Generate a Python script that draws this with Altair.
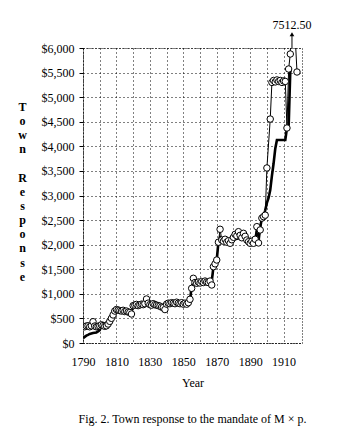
import altair as alt
import pandas as pd

resp_years = [1790, 1791, 1792, 1793, 1794, 1795, 1796, 1797, 1798, 1799,
              1800, 1801, 1802, 1803, 1804, 1805, 1806, 1807, 1808, 1809,
              1810, 1811, 1812, 1813, 1814, 1815, 1816, 1817, 1818, 1819,
              1820, 1821, 1822, 1823, 1824, 1825, 1826, 1827, 1828, 1829,
              1830, 1831, 1832, 1833, 1834, 1835, 1836, 1837, 1838, 1839,
              1840, 1841, 1842, 1843, 1844, 1845, 1846, 1847, 1848, 1849,
              1850, 1851, 1852, 1853, 1854, 1855, 1856, 1857, 1858, 1859,
              1860, 1861, 1862, 1863, 1864, 1865, 1866, 1867, 1868, 1869,
              1870, 1871, 1872, 1873, 1874, 1875, 1876, 1877, 1878, 1879,
              1880, 1881, 1882, 1883, 1884, 1885, 1886, 1887, 1888, 1889,
              1890, 1891, 1892, 1893, 1894, 1895, 1896, 1897, 1898, 1899,
              1900, 1902, 1903, 1904, 1905, 1906, 1907, 1908, 1909, 1910,
              1911, 1912, 1913, 1914, 1915, 1918]
resp_values = [340, 330, 345, 350, 330, 350, 433, 345, 330, 340,
               350, 370, 355, 340, 350, 386, 440, 502, 570, 650,
               680, 670, 660, 650, 665, 640, 650, 630, 620, 590,
               760, 770, 785, 760, 775, 790, 780, 800, 895, 810,
               780, 770, 800, 780, 770, 760, 750, 730, 720, 680,
               790, 810, 800, 820, 810, 800, 830, 810, 800, 820,
               790, 810, 790, 820, 889, 1112, 1316, 1230, 1215, 1240,
               1220, 1250, 1230, 1260, 1240, 1230, 1260, 1180, 1552, 1610,
               1688, 2050, 2313, 2095, 2070, 2110, 2050, 2080, 2028, 2100,
               2150, 2210, 2180, 2264, 2190, 2140, 2231, 2170, 2095, 2060,
               2028, 2070, 2028, 2110, 2366, 2035, 2300, 2540, 2570, 2600,
               3560, 4555, 5300, 5340, 5310, 5350, 5320, 5340, 5300, 5330,
               5320, 4373, 5573, 5878, 7512.5, 5512]

mand_years = [1790, 1791, 1792, 1793, 1794, 1795, 1796, 1797, 1798, 1799,
              1800, 1801, 1802, 1803, 1804, 1805, 1806, 1807, 1808, 1809,
              1810, 1811, 1812, 1813, 1814, 1815, 1816, 1817, 1818, 1819,
              1820, 1821, 1822, 1823, 1824, 1825, 1826, 1827, 1828, 1829,
              1830, 1831, 1832, 1833, 1834, 1835, 1836, 1837, 1838, 1839,
              1840, 1841, 1842, 1843, 1844, 1845, 1846, 1847, 1848, 1849,
              1850, 1851, 1852, 1853, 1854, 1855, 1856, 1857, 1858, 1859,
              1860, 1861, 1862, 1863, 1864, 1865, 1866, 1867, 1868, 1869,
              1870, 1871, 1872, 1873, 1874, 1875, 1876, 1877, 1878, 1879,
              1880, 1881, 1882, 1883, 1884, 1885, 1886, 1887, 1888, 1889,
              1890, 1891, 1892, 1893, 1894, 1895, 1896, 1897, 1898, 1899,
              1900, 1901, 1902, 1903, 1904, 1905, 1906, 1907, 1908, 1909,
              1910, 1911, 1912, 1913, 1914, 1915]
mand_values = [100, 125, 150, 165, 185, 195, 205, 210, 215, 235,
               260, 350, 350, 345, 350, 380, 440, 500, 570, 640,
               665, 665, 660, 655, 655, 650, 645, 640, 635, 630,
               760, 765, 770, 770, 775, 780, 785, 790, 800, 800,
               790, 785, 790, 780, 775, 770, 765, 760, 755, 750,
               790, 800, 805, 810, 810, 815, 815, 810, 810, 815,
               810, 810, 815, 820, 860, 1150, 1220, 1225, 1225, 1230,
               1235, 1240, 1240, 1245, 1245, 1250, 1250, 1255, 1540, 1600,
               1690, 2050, 2150, 2100, 2090, 2090, 2085, 2080, 2085, 2090,
               2100, 2110, 2120, 2130, 2120, 2110, 2100, 2100, 2090, 2080,
               2080, 2080, 2080, 2080, 2300, 2080, 2350, 2540, 2570, 2700,
               2850, 2950, 3110, 3400, 3650, 3950, 4130, 4130, 4130, 4130,
               4130, 4130, 4373, 4373, 5550, 5550]

x_ticks = [1790, 1800, 1810, 1820, 1830, 1840, 1850, 1860, 1870, 1880,
           1890, 1900, 1910]
y_ticks = [0, 500, 1000, 1500, 2000, 2500, 3000, 3500, 4000, 4500,
           5000, 5500, 6000]

off_year = [1915]
off_label = ["7512.50"]
arrow_from = [6000]
arrow_to = [6280]
label_at = [6470]

FONT = "Liberation Serif"

resp = pd.DataFrame({"year": resp_years, "value": resp_values})
mand = pd.DataFrame({"year": mand_years, "value": mand_values})
ann = pd.DataFrame({"year": off_year, "label": off_label, "y0": arrow_from,
                    "y1": arrow_to, "ly": label_at})

xs = alt.Scale(domain=[1790, 1921], nice=False, zero=False)
ys = alt.Scale(domain=[0, 6000], nice=False)

x_axis = alt.Axis(values=x_ticks, format="d", title="Year",
                  labelExpr="datum.value % 20 == 10 ? datum.label : ''",
                  labelOverlap=False, labelFlush=False,
                  ticks=False, labelPadding=13, titlePadding=10,
                  gridDash=[1, 3], gridColor="black", gridOpacity=1,
                  domainDash=[1, 2], domainColor="black")
y_axis = alt.Axis(values=y_ticks, format="$,.0f",
                  labelOverlap=False, labelFlush=False,
                  title=["T", "o", "w", "n", "\u2800", "R", "e", "s",
                         "p", "o", "n", "s", "e"],
                  titleAngle=0, titleAlign="center",
                  titleBaseline="top", titleX=-61, titleY=53,
                  titleLineHeight=14.2, titleFontWeight="bold",
                  tickSize=4, tickColor="black", labelPadding=5,
                  gridDash=[1, 3], gridColor="black", gridOpacity=1,
                  domainDash=[1, 2], domainColor="black")


def X():
    return alt.X("year:Q", scale=xs, axis=x_axis)


def Y(field):
    return alt.Y(field, type="quantitative", scale=ys, axis=y_axis)


thick = alt.Chart(mand).mark_line(color="black", strokeWidth=2.6,
                                  clip=True).encode(x=X(), y=Y("value"))
thin = alt.Chart(resp).mark_line(color="black", strokeWidth=1,
                                 clip=True).encode(x=X(), y=Y("value"))
dots = alt.Chart(resp).mark_point(shape="circle", filled=True, fill="white",
                                  stroke="black", strokeWidth=1, size=42,
                                  opacity=1, clip=True).encode(
    x=X(), y=Y("value"))
arrow = alt.Chart(ann).mark_rule(color="black", strokeWidth=1).encode(
    x=X(), y=Y("y0"), y2="y1:Q")
head = alt.Chart(ann).mark_point(shape="triangle-up", filled=True,
                                 color="black", size=22, opacity=1).encode(
    x=X(), y=Y("y1"))
txt = alt.Chart(ann).mark_text(font=FONT, fontSize=12, color="black",
                               baseline="middle").encode(
    x=X(), y=Y("ly"), text="label:N")

chart = alt.layer(thick, thin, dots, arrow, head, txt).properties(
    width=219, height=295,
    background="white",
    autosize=alt.AutoSizeParams(type="none"),
    padding={"left": 83, "top": 48, "right": 50, "bottom": 103},
    title=alt.TitleParams("Fig. 2.  Town response to the mandate of M \u00d7 p.",
                          orient="bottom", anchor="middle", font=FONT,
                          fontSize=12, fontWeight="normal", offset=26,
                          color="black"),
).configure_view(stroke="black", strokeDash=[1, 2], strokeWidth=1
).configure_axis(labelFont=FONT, titleFont=FONT, labelFontSize=12,
                 titleFontSize=12, labelColor="black", titleColor="black",
                 titleFontWeight="normal", labelOverlap=False)

chart.save("out.html", embed_options={"renderer": "svg", "actions": False})
